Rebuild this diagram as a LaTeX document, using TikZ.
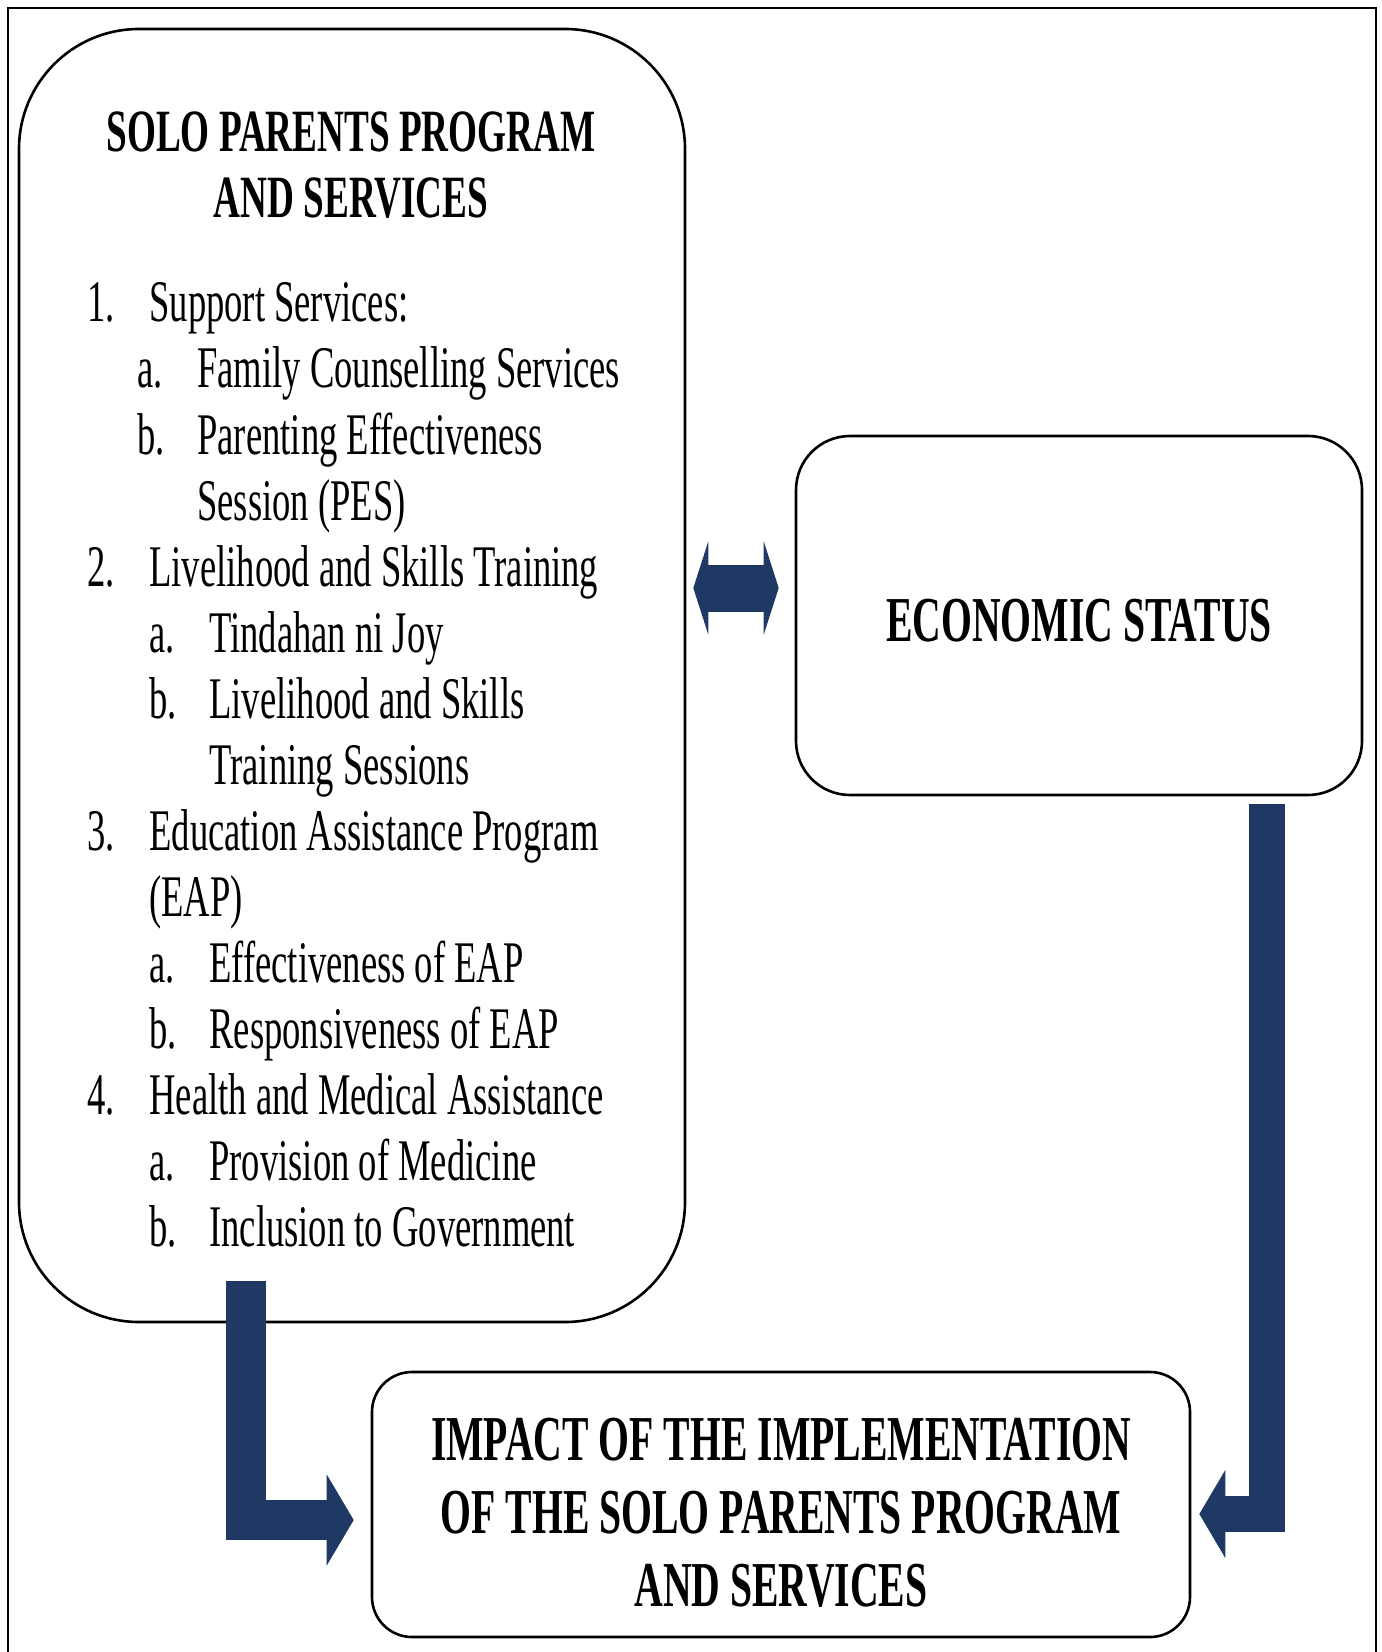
\documentclass[tikz,border=0pt]{standalone}
\usepackage{xcolor}
\usepackage{fontspec}
\setmainfont{Liberation Serif}[FakeStretch=0.62]
\usepackage{tikz}
\usetikzlibrary{arrows.meta, calc}
\definecolor{navy}{HTML}{1F3864}

\begin{document}
\begin{tikzpicture}[x=0.5pt, y=-0.5pt,
    box/.style={draw, line width=1.3pt, rounded corners=#1, inner sep=0pt},
    head/.style={font=\bfseries\fontsize{32}{36.5}\selectfont, align=center},
    item/.style={font=\fontsize{29.5}{33}\selectfont, inner sep=0pt, anchor=base west},
    flow/.style={navy, line width=#1, line join=miter}]
    \useasboundingbox (0,0) rectangle (1381,1652);

    % Cadre
    \draw[line width=0.8pt] (8,1652) -- (8,8) -- (1376,8) -- (1376,1652);

    % Programme
    \node[box=60pt, minimum width=333pt, minimum height=646.5pt] (spp) at (352,675.5) {};
    \node[head, font=\bfseries\fontsize{30}{33}\selectfont] (title) at (351,165) {SOLO PARENTS PROGRAM\\AND SERVICES};
    \foreach \i/\x/\txt in {0/87/1., 0/149/Support Services:,
        1/137/a., 1/197/Family Counselling Services,
        2/137/b., 2/197/Parenting Effectiveness, 3/197/Session (PES),
        4/87/2., 4/149/Livelihood and Skills Training,
        5/149/a., 5/209/Tindahan ni Joy,
        6/149/b., 6/209/Livelihood and Skills, 7/209/Training Sessions,
        8/87/3., 8/149/Education Assistance Program, 9/149/(EAP),
        10/149/a., 10/209/Effectiveness of EAP,
        11/149/b., 11/209/Responsiveness of EAP,
        12/87/4., 12/149/Health and Medical Assistance,
        13/149/a., 13/209/Provision of Medicine,
        14/149/b., 14/209/Inclusion to Government}
        \node[item] (l\i-\x) at (\x, {322+66*\i}) {\txt};

    % Statut economique
    \node[box=27pt, minimum width=283pt, minimum height=179.5pt] (eco) at (1079,615.5) {};
    \node[head] (ecotext) at ([yshift=-2.75pt]eco.center) {ECONOMIC STATUS};

    % Impact
    \node[box=20pt, minimum width=409pt, minimum height=132.5pt] (imp) at (781,1504.5) {};
    \node[head] (imptext) at ([yshift=-4.25pt]imp.center)
        {IMPACT OF THE IMPLEMENTATION\\OF THE SOLO PARENTS PROGRAM\\AND SERVICES};

    % Fleches
    \coordinate (link) at ([yshift=13.75pt]eco.west);
    \draw[flow=23.5pt, {Triangle[length=7.5pt,width=46.5pt]}-{Triangle[length=7.5pt,width=46.5pt]},
        shorten <=3.5pt, shorten >=8pt] (spp.east |- link) -- (link);
    \coordinate (lstart) at ([xshift=114pt, yshift=21pt]spp.south west);
    \draw[flow=20pt, -{Triangle[length=13.5pt,width=45pt]}, shorten >=8.5pt]
        (lstart) |- ([yshift=-7.75pt]imp.west);
    \coordinate (rstart) at ([xshift=94pt, yshift=-4pt]eco.south);
    \draw[flow=18pt, -{Triangle[length=13pt,width=43.5pt]}, shorten >=4pt]
        (rstart) |- ([yshift=-4.75pt]imp.east);
\end{tikzpicture}
\end{document}
